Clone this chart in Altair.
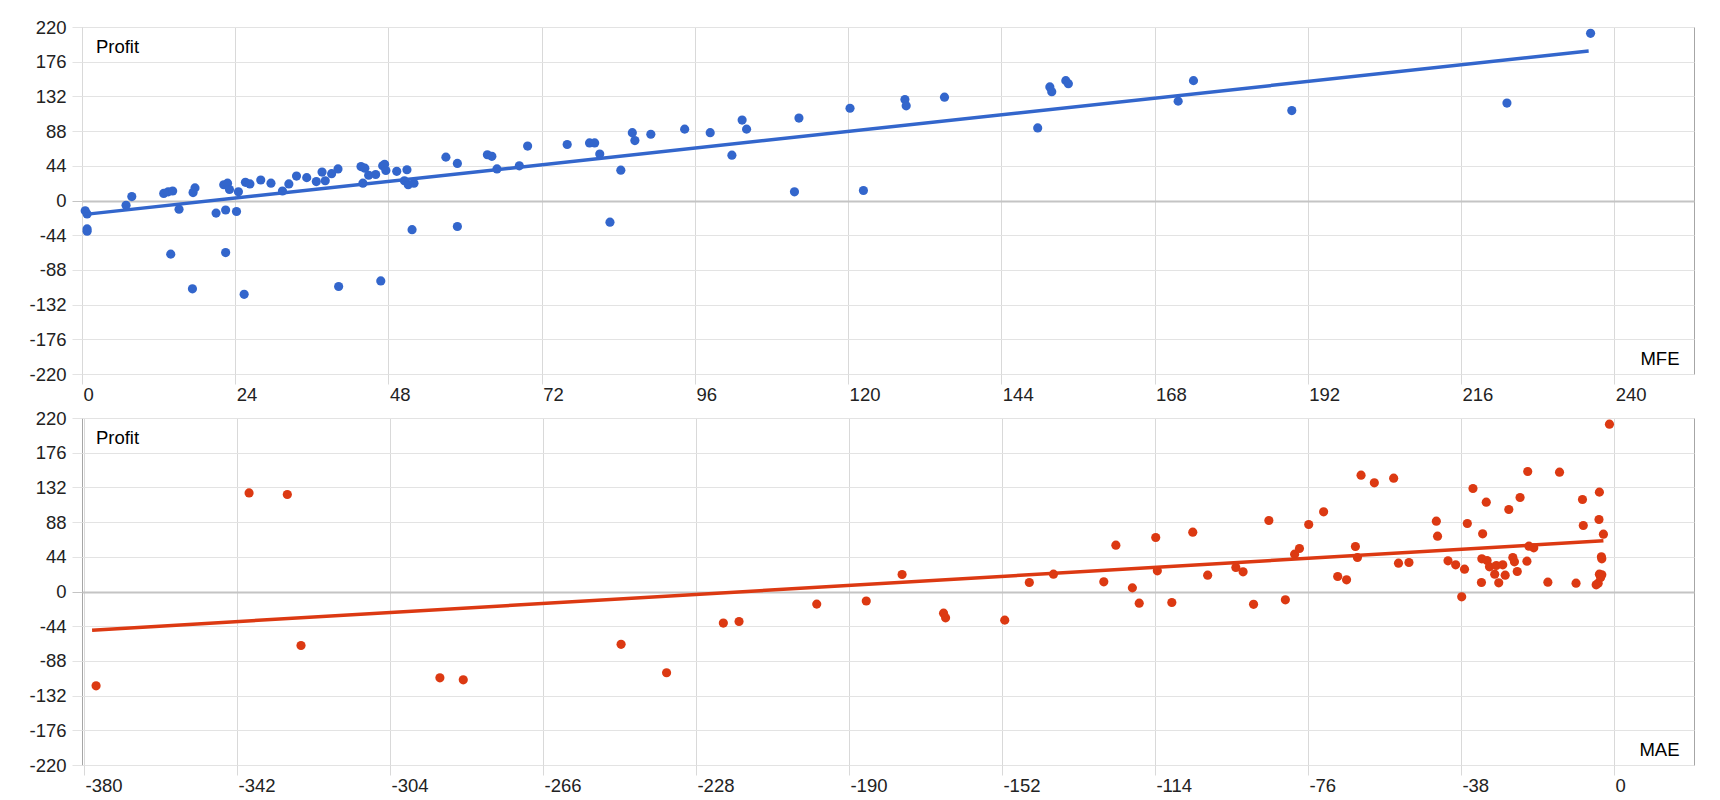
import altair as alt
import pandas as pd

# ---- Data ----
mfe = [0.5, 0.8, 0.8, 0.8, 6.9, 7.8, 12.8, 13.5, 14.2, 13.9, 15.2, 17.3, 17.4, 17.7,
       21.0, 22.2, 22.8, 23.1, 22.5, 22.5, 24.2, 24.5, 25.4, 25.6, 26.3, 28.0, 29.6,
       31.4, 32.4, 33.6, 35.2, 36.7, 37.6, 38.1, 39.1, 40.1, 40.2, 43.7, 44.3, 44.0,
       44.9, 46.0, 46.8, 47.1, 47.4, 47.6, 49.3, 50.9, 50.5, 51.1, 52.0, 51.7, 57.0,
       58.8, 58.8, 63.5, 64.2, 65.0, 68.5, 69.8, 76.0, 79.5, 80.3, 81.1, 82.7, 84.4,
       86.2, 86.6, 89.1, 94.4, 98.4, 101.8, 103.4, 104.1, 111.6, 112.3, 120.3, 122.4,
       128.9, 129.1, 135.1, 149.7, 151.6, 151.9, 154.1, 154.5, 171.7, 174.1, 189.5,
       223.2, 236.3]
mfe_profit = [-13, -17, -36, -39, -6, 5, 9, 11, 12, -68, -11, -112, 10, 16,
              -16, 20, 22, 14, -12, -66, -14, 11, -119, 23, 21, 26, 22,
              12, 21, 31, 29, 24, 36, 25, 34, 40, -109, 43, 41, 22,
              32, 33, -102, 44, 46, 38, 37, 39, 25, 20, 22, -37, 55,
              47, -33, 58, 56, 40, 44, 69, 71, 73, 73, 59, -27.5, 38.5,
              86, 76, 84, 90.5, 86, 57.5, 102, 90.5, 11, 104.5, 117, 12.7,
              128, 120, 131, 92, 144, 138, 152, 148, 126, 152, 114,
              123.5, 212]

mae = [-377.0, -339.0, -329.5, -326.1, -291.6, -285.8,
       -246.6, -235.3, -221.2, -217.3, -198.0, -185.7,
       -176.8, -166.5, -166.0, -151.3, -145.2, -139.2, -126.7, -123.7, -119.6, -117.9,
       -113.8, -113.4, -109.8, -104.6, -100.9, -93.9, -92.1, -89.5,
       -85.7, -81.6, -79.3, -78.1, -75.8, -72.1, -68.6, -66.4, -64.2, -63.7, -62.8,
       -59.5, -54.7, -53.5, -50.9, -44.1, -43.8, -41.2, -39.3, -37.8, -37.1, -36.4,
       -35.0, -32.9, -32.8, -32.6, -31.7, -31.5, -30.9, -29.6, -29.2, -28.6, -27.6,
       -27.0, -26.1, -25.1, -24.7, -24.0, -23.3, -21.6, -21.4, -21.1, -19.9, -16.4,
       -13.5, -9.4, -7.8, -7.6, -4.4, -3.9, -3.7, -3.6, -3.6, -3.3, -3.0, -3.1, -3.0,
       -2.6, -1.1]
mae_profit = [-119.6, 125, 123, -68.5, -109.5, -112,
              -67, -103, -40, -38, -16, -12,
              21.6, -27.5, -33.4, -36.3, 11.4, 22, 12.3, 58.7, 4.6, -14.8,
              68.5, 26.2, -13.9, 75.2, 20.7, 30.4, 24.9, -16.3,
              90, -10.6, 47.3, 54.5, 85, 101, 19, 14.8, 57.1, 43.1, 147.5,
              137.8, 143.7, 35.9, 36.8, 89.2, 70.2, 38.9, 33.8, -6.8, 28.3, 86.2,
              130.6, 11.4, 41.4, 73.1, 113.3, 39.3, 31.3, 22, 33, 11, 33.8,
              20.7, 104, 43.1, 37.6, 25.4, 119.2, 38.5, 152.2, 57.5, 55.4, 11.8,
              151.3, 10.6, 116.7, 83.7, 8.5, 10.6, 91.3, 126, 22, 17.8, 21.1, 44, 41.4,
              72.7, 212.2]

# Trend line end points
trend_mfe = [0.5, 236.0]
trend_mfe_profit = [-17.6, 189.6]
trend_mae = [-378.0, -2.6]
trend_mae_profit = [-49.0, 64.2]

mfe_ticks = [0, 24, 48, 72, 96, 120, 144, 168, 192, 216, 240]
mae_ticks = [-380, -342, -304, -266, -228, -190, -152, -114, -76, -38, 0]
profit_ticks = [-220, -176, -132, -88, -44, 0, 44, 88, 132, 176, 220]

FONT = "Liberation Sans"
BLUE = "#3366cc"
RED = "#dc3912"
W, H = 1612, 347
FS = 18.5

zero_color = {"condition": {"test": "datum.value === 0", "value": "#c4c4c4"}, "value": "#e3e3e3"}
zero_width = {"condition": {"test": "datum.value === 0", "value": 1.8}, "value": 1}


def panel(xvals, yvals, tx, ty, xname, domain, ticks, color):
    df = pd.DataFrame({xname: xvals, "Profit": yvals})
    tdf = pd.DataFrame({xname: tx, "Profit": ty})
    x_axis = alt.Axis(
        values=ticks, title=xname, grid=True, gridColor="#d9d9d9", tickColor="#d9d9d9",
        tickSize=10, domain=False, labelAlign="left", labelOffset=1, labelBaseline="top",
        labelPadding=1, labelFlush=False, labelOverlap=False, labelFont=FONT,
        labelExpr="toString(datum.value)",
        labelFontSize=FS, labelColor="#222222", titleFont=FONT, titleFontSize=FS,
        titleFontWeight="normal", titleColor="#000000", titleAlign="right",
        titleBaseline="alphabetic", titleX=W - 15, titleY=-10,
    )
    y_axis = alt.Axis(
        values=profit_ticks, title="Profit", grid=True, gridColor=zero_color,
        gridWidth=zero_width, tickColor=zero_color, tickSize=10, domain=False,
        labelPadding=6, labelFont=FONT, labelFontSize=FS, labelColor="#222222",
        labelFlush=False, labelOverlap=False, labelExpr="toString(datum.value)",
        titleFont=FONT, titleFontSize=FS, titleFontWeight="normal", titleColor="#000000",
        titleAngle=0, titleAlign="left", titleBaseline="alphabetic", titleX=13.4, titleY=25,
    )
    xs = alt.Scale(domain=domain, nice=False, zero=False)
    ys = alt.Scale(domain=[-220, 220], nice=False)
    pts = alt.Chart(df).mark_circle(size=84, color=color, opacity=1).encode(
        x=alt.X(f"{xname}:Q", scale=xs, axis=x_axis),
        y=alt.Y("Profit:Q", scale=ys, axis=y_axis),
    )
    line = alt.Chart(tdf).mark_line(color=color, strokeWidth=3.5).encode(
        x=alt.X(f"{xname}:Q", scale=xs, axis=x_axis),
        y=alt.Y("Profit:Q", scale=ys, axis=y_axis),
    )
    return alt.layer(pts, line).properties(width=W, height=H)


top = panel(mfe, mfe_profit, trend_mfe, trend_mfe_profit, "MFE", [0, 252.5], mfe_ticks, BLUE)
bottom = panel(mae, mae_profit, trend_mae, trend_mae_profit, "MAE", [-380.5, 19.9], mae_ticks, RED)

chart = alt.vconcat(top, bottom, spacing=44, bounds="flush").properties(
    padding={"left": 20, "top": 9, "right": 5, "bottom": 5},
).configure_view(stroke="#a6a6a6", strokeWidth=1)

chart.save("out.html", embed_options={"renderer": "svg", "actions": False})
